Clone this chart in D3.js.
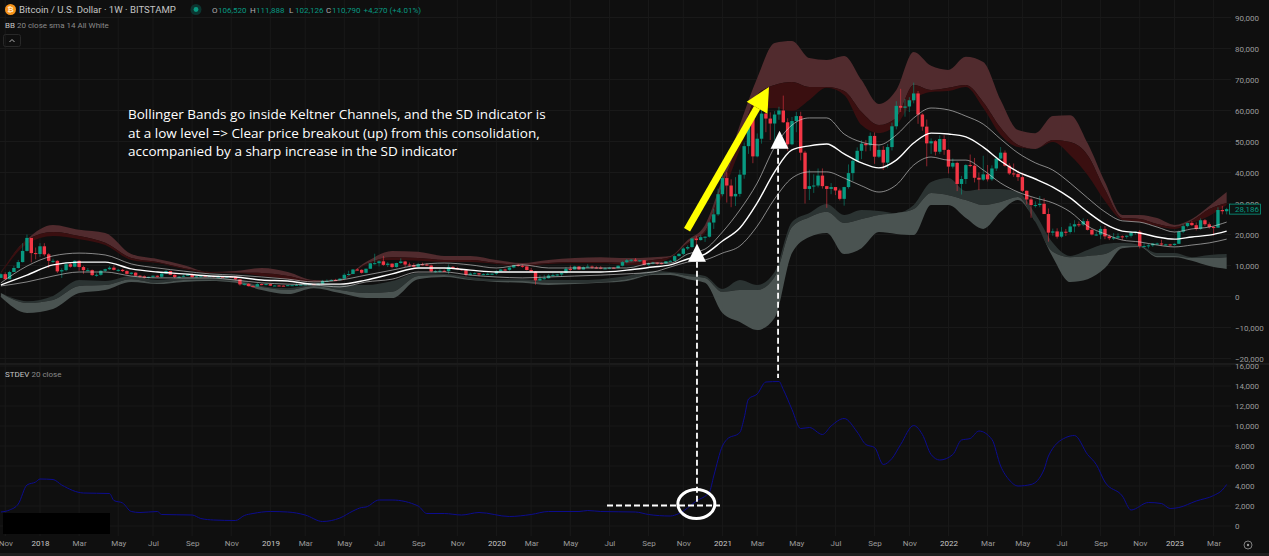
<!DOCTYPE html>
<html><head><meta charset="utf-8">
<script src="https://cdn.jsdelivr.net/npm/d3@7"></script>
<style>html,body{margin:0;padding:0;background:#0f0f0f;overflow:hidden}svg{display:block}text{font-family:Roboto,sans-serif}</style>
</head><body><svg id="c" width="1269" height="556"></svg>
<script>
// ---------- weekly candles (Monday weeks from 30 Oct 2017) ----------
const firstWeek = "2017-10-30";
const firstOpen = 6000;
const closes = [7200,5600,7900,9200,11100,14700,18900,14000,13700,
16200,13600,11500,11500,8100,8500,10400,9600,11500,9500,8500,8500,6900,7000,8300,8800,9300,8600,8600,8200,7300,7700,6700,6500,6100,6350,6700,6350,7400,8200,7000,6300,6400,6700,7200,6250,6500,6700,6600,6600,6300,6400,6350,6400,6350,5550,3900,4100,3350,3200,4000,3800,4000,
3500,3550,3500,3450,3650,3650,3750,3800,3900,4000,3990,4100,5050,5070,5300,5250,5760,7000,7260,8700,8600,7650,8950,10700,10750,11350,10200,10600,9500,10800,11300,10300,10150,9600,10400,10300,10000,8100,8150,8300,8200,9550,9200,8800,8500,7000,7400,7500,7100,7200,7300,7350,
8150,8700,8600,9350,10150,9900,9700,8550,8050,5200,5800,5900,6780,6900,7100,7550,8900,8700,9680,8700,9450,9660,9350,9300,9000,9070,9300,9170,9930,11100,11680,11850,11650,11700,10250,10680,10930,10770,10680,11370,11500,13030,13750,15480,15950,18700,18200,19150,19280,23860,26500,33000,
38200,35800,32300,33100,39300,48500,57400,45200,50900,59000,57400,55800,58700,60000,56200,49100,56600,58200,46400,34700,35600,35800,39000,35600,34700,35300,34200,31500,35300,39800,43800,47000,49300,48800,51800,45100,47300,43200,48200,54900,61500,60900,61300,63300,65500,58700,54800,49400,50100,46700,50800,47300,
41900,43100,36300,37900,42400,42200,38300,37700,39400,37800,41300,44500,46400,42200,39700,39500,38500,34100,31300,29500,29500,29900,26600,20600,21000,19300,20900,20800,22600,23300,23200,24300,21500,20000,20000,21800,19400,18800,19000,19400,19300,19600,20600,20900,16300,16300,16500,17100,17100,16800,16800,16600,
17000,20900,22700,23700,23000,21800,24600,23300,22400,22200,27900,27500,28186];
const highs = [7500,7800,8300,9900,11800,17200,20000,18800,15800,
17200,17200,14000,12200,11700,9100,10900,11000,11700,11700,9900,9200,8700,7500,8500,9000,9800,10000,8900,8900,8500,7800,7800,6900,6800,6400,6800,6800,7500,8500,8300,7200,6600,7100,7300,7400,6600,6800,6800,6800,6700,6800,6500,6500,6500,6400,5600,4400,4300,3500,4300,4200,4100,
4100,3700,3700,3600,3700,3750,4200,3900,3950,4050,4100,4200,5350,5500,5600,5700,5900,7500,8300,8900,9100,8800,9000,10900,13800,11700,13100,11100,10700,10900,12300,11500,10950,10800,10800,10900,10700,10300,8500,8800,8700,10350,9800,9500,8800,8700,7800,7800,7500,7500,7700,7500,
8450,8900,8990,9600,10200,10500,10300,9800,9200,8200,6900,7000,7200,7500,7300,7750,9500,10000,9900,9800,9700,10400,10000,9800,9800,9400,9400,9400,10000,11400,12100,12100,12400,11800,11800,11000,11200,11000,11000,11400,11700,13300,14000,15900,16500,18900,19500,19900,19400,24200,28300,34800,
41900,40100,37800,38500,40900,49700,58300,58100,52600,61700,61000,59400,59800,61200,64800,57500,57900,59500,59600,47000,40900,39400,41300,41300,35700,36600,35000,34800,35400,42600,44700,48100,50400,50500,52900,52900,48800,48500,49200,56100,63000,67000,63700,64300,69000,66300,59100,57100,51000,50500,52000,52000,
47500,44500,43500,38900,42700,45800,44700,40000,45400,42400,42300,45100,48200,47100,43000,42900,40700,40000,34200,32000,30700,32400,31700,28400,21900,22000,22400,21800,23700,24600,24200,25200,25000,21800,21000,22700,22700,20000,20500,20400,19700,19700,21100,21000,21400,17200,17000,17200,17400,18300,17000,17000,
17100,21300,23300,23800,24300,23900,25200,25000,23900,22700,28800,29200,28600];
const lows = [6000,5500,5600,7900,9000,11000,14500,11000,12000,
12800,13000,9200,10800,7600,6000,8100,9300,9400,8300,7300,8300,6600,6400,6700,7800,8600,8400,8000,7900,7100,7000,6700,6100,5800,5800,6100,6100,6100,7300,6900,5900,5900,6200,6600,6100,6200,6100,6400,6400,6100,6200,6300,6200,6300,5200,3500,3500,3200,3100,3200,3600,3600,
3400,3450,3400,3400,3400,3600,3650,3700,3700,3850,3900,3950,4050,4900,5000,5100,5200,5700,6800,7200,8300,7400,7500,8900,10300,9700,9900,9500,9100,9300,10500,9500,9700,9400,9500,10000,9800,7800,7700,7800,8000,7300,8900,8700,8300,6500,6800,7200,6500,6900,7100,6900,
7000,8100,8300,8300,9100,9600,9300,8400,8000,3800,5000,5400,5800,6500,6500,6500,7500,8100,8700,8600,8700,9350,8900,9000,8800,8900,9000,9050,9100,9700,10700,11100,11300,11100,10000,9900,10400,10300,10350,10600,11200,11400,12900,13300,15000,15700,16200,18000,17600,19000,21800,26000,
32300,30300,28800,29200,32200,38000,46000,43000,44900,49300,53000,50500,50400,57000,56000,47000,48800,53000,43900,30000,31100,33400,35200,34800,28600,33000,32700,31000,29300,34800,37300,43300,44300,46800,47000,42800,44700,40800,41400,47100,53900,59500,58000,59500,62300,55700,53500,42000,46000,45500,46000,45700,
39700,41300,34000,32900,36300,41700,36800,34300,37300,37100,37300,40500,44200,41900,39200,38600,37300,33700,29700,25400,28700,28800,26600,17700,19600,18700,18900,19500,20300,20700,22400,22700,21300,19700,19600,18500,18500,18200,18200,18700,18200,18700,19000,20000,15500,15800,15500,16000,16700,16300,16400,16300,
16400,17000,20400,22300,22700,21300,21500,22700,21900,19600,22300,26500,26500];

// ---------- band readings, at these week numbers ----------
const bandWeeks = [0,6,12,18,24,30,36,42,48,54,60,66,72,78,84,90,96,102,108,114,120,126,132,138,144,150,
154,158,162,166,170,174,178,182,186,190,194,198,202,206,210,214,218,222,226,230,234,238,242,246,250,254,258,262,266,270,274,278,282];
const redTop = [7900,18500,23100,21500,20500,13700,12100,10200,7900,8200,9200,7900,5300,5600,11100,14700,14400,13100,13100,11800,10800,11800,12400,12700,12400,12700,
13100,18200,23100,38200,55300,70500,81800,82400,76900,76300,77600,69800,62100,66600,78900,74400,73100,77300,75650,63400,53700,52700,58200,58500,49500,36900,26300,26300,25300,23100,25000,29200,33700];
const redMid = [7600,18200,20800,19500,17300,12400,11100,9200,7900,7700,7600,6600,5000,5300,10500,12700,12400,11800,11800,10800,10200,10800,11100,11100,10800,11800,
12700,17300,21100,36000,50500,65000,68200,69200,67600,67600,66300,59500,55300,57600,68200,66600,67300,68200,62700,54400,48900,47600,50500,49800,45600,34400,25300,25000,23400,22400,24400,28200,30200];
const redLow = [7300,16900,19500,18500,16600,11800,10800,8900,7600,7600,6600,5600,4700,5000,10200,11800,11500,11100,11100,10500,9800,10500,10800,10800,10200,10500,
12400,16900,20500,32700,47300,60200,60800,59800,63400,67300,65000,55300,52700,55300,63400,66000,66300,67600,60800,52100,48200,47600,49800,45600,39200,30800,24700,24000,22700,21800,23700,26000,29500];
const bbUpper = [4400,9800,13100,14000,13400,10500,9200,8200,7300,6900,6300,5600,4700,5300,6900,8500,10200,10800,10200,9200,10200,9200,9200,9200,9200,10800,
10800,13700,15300,20800,27900,36600,48200,55300,57600,57600,52400,49800,48900,52100,57600,60800,60200,58200,55600,50800,46300,43100,40800,36600,31800,27300,24400,24000,22400,20800,21800,22400,24000];
const bbBasis = [3700,6900,10200,11100,11100,8900,7900,7300,6600,6300,5300,5000,4000,4000,5300,7300,9200,9200,8500,7900,7900,7900,7900,7900,8500,9500,
10200,12100,13700,17900,22100,30200,40200,47300,48600,49200,46000,43100,41500,44000,49500,52700,52400,51500,48200,43700,40200,37900,35300,31800,27300,23400,21100,20500,19200,18500,19200,19800,21100];
const bbLower = [3400,4700,6600,7900,7900,6600,6000,6000,6000,5300,4400,4000,3700,3100,4700,5600,7900,7900,6900,6300,6000,6300,6600,6900,7300,7900,
9500,11100,11800,14000,16300,22700,31500,38200,40200,40200,38200,35700,33700,36000,42400,45000,44000,44000,40800,36600,33700,31800,30200,27300,22700,20200,18200,17600,16600,16000,16600,17300,18500];
const greyTop = [1100,-1500,200,5300,5000,6600,5300,6000,6000,5600,3400,2700,3700,3700,3700,5000,7600,7300,6300,5600,5600,5300,5300,5600,6600,8200,
7900,7300,6600,2400,5300,3700,7900,24000,26900,29800,26300,27900,27600,26900,29500,36900,38200,34000,34700,34700,33700,26600,17300,13100,15000,16900,17300,16600,14000,14000,12700,13400,13700];
const greyMid = [1100,-2100,-1100,3400,3700,5600,4400,5300,5300,5000,3100,2100,3400,2100,1100,1500,6600,6900,5600,5000,5000,4400,4400,4700,5600,7300,
7600,6600,6000,1500,2100,2100,6300,22400,25600,27300,23700,25000,26300,26900,28200,33400,32700,31100,29500,30500,32100,24000,14400,12700,13100,13700,16300,16300,13100,13100,12400,12400,12700];
const greyLow = [-200,-5300,-4000,1100,2100,4700,4000,4700,5000,4400,2100,800,2700,1100,-500,-500,5600,6300,5300,4700,4400,3700,4000,4400,5000,6900,
6900,5600,4400,-5300,-8200,-10800,-6900,14000,19200,20500,13700,15600,20800,20200,19800,29500,29500,25300,21800,27300,31100,24000,12700,4700,5600,9200,15600,16000,12700,12700,11500,9800,8900];

// ---------- standard deviation panel ----------
const stdevWeeks = [0,2,4,6,8,9,12,14,19,25,26,28,30,32,36,37,44,46,49,54,56,58,62,66,70,74,78,81,83,84,87,90,96,98,102,106,110,117,122,126,133,135,
138,146,149,154,156,160,163,164,166,167,170,171,172,174,176,179,180,182,184,186,189,191,194,197,199,201,203,205,207,210,212,214,216,219,221,223,225,228,230,232,234,237,240,241,245,247,250,252,254,258,260,264,267,269,271,275,279,281,282];
const stdevValues = [1400,1600,2200,4100,4400,4700,4650,4100,3300,3250,2550,2300,1450,1350,1450,1150,1100,750,600,550,1050,1250,1450,1400,1100,450,800,1500,1850,1900,2600,2600,2000,1250,1250,1100,1350,950,1150,1450,1450,1550,
1450,1400,1150,1000,1250,2500,3400,5000,8000,8650,9350,10800,12700,13200,14400,14450,13650,11650,9750,9850,9150,10000,10750,9400,8150,7850,6150,6750,8150,10050,9150,7150,6600,7150,8600,8750,9500,8650,6000,4600,4000,4150,5650,7000,8850,9050,7150,6150,4400,3000,1600,2350,2250,1750,1850,2500,3050,3600,4150];

// ---------- axis ticks ----------
const priceTicks = [90000,80000,70000,60000,50000,40000,30000,20000,10000,0,-10000,-20000];
const stdevTicks = [16000,14000,12000,10000,8000,6000,4000,2000,0];
const timeTicks = ["2017-11-06","2018-01-01","2018-03-05","2018-05-07","2018-07-02","2018-09-03","2018-11-05","2019-01-07","2019-03-04","2019-05-06","2019-07-01","2019-09-02","2019-11-04","2020-01-06","2020-03-02","2020-05-04","2020-07-06","2020-09-07","2020-11-02","2021-01-04","2021-03-01","2021-05-03","2021-07-05","2021-09-06","2021-11-01","2022-01-03","2022-03-07","2022-05-02","2022-07-04","2022-09-05","2022-11-07","2023-01-02","2023-03-06"];
const timeLabels = ["Nov","2018","Mar","May","Jul","Sep","Nov","2019","Mar","May","Jul","Sep","Nov","2020","Mar","May","Jul","Sep","Nov","2021","Mar","May","Jul","Sep","Nov","2022","Mar","May","Jul","Sep","Nov","2023","Mar"];

// ---------- texts and annotation anchors (week number, value) ----------
const noteLines = ["Bollinger Bands go inside Keltner Channels, and the SD indicator is","at a low level => Clear price breakout (up) from this consolidation,","accompanied by a sharp increase in the SD indicator"];
const arrowFrom = [157.8, 21500], arrowTo = [176.7, 67600];
const markers = [{week:160.1, price:17000, stdevTo:2400},{week:179.2, price:53500, stdevTo:14800}];
const ohlc = [["O","106,520"],["H","111,888"],["L","102,126"],["C","110,790"]];

const BG="#0f0f0f", GRID="#191919", UP="#089981", DOWN="#f23645", AXIS="#9b9b9b";
const W=1231, svg=d3.select("#c");
const parse=d3.utcParse("%Y-%m-%d");
const start=parse(firstWeek);
const weekDate=i=>d3.utcDay.offset(start,Math.round(i*7));
const x=d3.scaleUtc().domain([parse("2018-01-01"),parse("2023-01-02")]).range([40,1174.5]);
const y=d3.scaleLinear().domain([-20000,90000]).range([358.5,17.5]);
const ys=d3.scaleLinear().domain([0,16000]).range([526,366]);
const xw=i=>x(weekDate(i));

svg.append("rect").attr("width",1269).attr("height",556).attr("fill",BG);
svg.append("defs").append("clipPath").attr("id","plot").append("rect").attr("x",0).attr("y",0).attr("width",W).attr("height",364);

// gridlines
const g=svg.append("g").attr("stroke",GRID).attr("stroke-width",1);
g.selectAll("line.v").data(timeTicks).join("line").attr("x1",d=>x(parse(d))).attr("x2",d=>x(parse(d))).attr("y1",0).attr("y2",536);
g.selectAll("line.p").data(priceTicks).join("line").attr("x1",0).attr("x2",W).attr("y1",d=>y(d)).attr("y2",d=>y(d));
g.selectAll("line.s").data(stdevTicks).join("line").attr("x1",0).attr("x2",W).attr("y1",d=>ys(d)).attr("y2",d=>ys(d));

// bands
const plot=svg.append("g").attr("clip-path","url(#plot)");
const bandArea=(a,b)=>d3.area().x((d,i)=>xw(bandWeeks[i])).y0((d,i)=>y(b[i])).y1((d,i)=>y(a[i])).curve(d3.curveMonotoneX)(bandWeeks);
plot.append("path").attr("d",bandArea(redTop,redMid)).attr("fill","#512b2e");
plot.append("path").attr("d",bandArea(redMid,redLow)).attr("fill","#3a0f10");
plot.append("path").attr("d",bandArea(greyTop,greyMid)).attr("fill","#2b3332");
plot.append("path").attr("d",bandArea(greyMid,greyLow)).attr("fill","#4a5351");

// candles
const opens=closes.map((c,i)=>i?closes[i-1]:firstOpen);
const cg=plot.append("g");
closes.forEach((c,i)=>{
  const col=c>=opens[i]?UP:DOWN, cx=xw(i);
  cg.append("line").attr("x1",cx).attr("x2",cx).attr("y1",y(highs[i])).attr("y2",y(lows[i])).attr("stroke",col).attr("stroke-opacity",.55).attr("stroke-width",1);
  const t=y(Math.max(c,opens[i])), b=y(Math.min(c,opens[i]));
  cg.append("rect").attr("x",cx-1.7).attr("width",3.4).attr("y",t).attr("height",Math.max(1,b-t)).attr("fill",col);
});

// Bollinger lines
const bLine=a=>d3.line().x((d,i)=>xw(bandWeeks[i])).y((d,i)=>y(a[i])).curve(d3.curveMonotoneX)(bandWeeks);
plot.append("path").attr("d",bLine(bbUpper)).attr("fill","none").attr("stroke","#d8d8d8").attr("stroke-opacity",.75).attr("stroke-width",.8);
plot.append("path").attr("d",bLine(bbLower)).attr("fill","none").attr("stroke","#d8d8d8").attr("stroke-opacity",.75).attr("stroke-width",.8);
plot.append("path").attr("d",bLine(bbBasis)).attr("fill","none").attr("stroke","#fff").attr("stroke-width",1.4);

// separators
svg.append("rect").attr("x",0).attr("y",363).attr("width",1269).attr("height",2).attr("fill","#1b1b1b");
svg.append("rect").attr("x",0).attr("y",553).attr("width",1269).attr("height",3).attr("fill","#1e1e1e");

// STDEV
svg.append("path").attr("d",d3.line().x(d=>xw(d)).y((d,i)=>ys(stdevValues[i])).curve(d3.curveMonotoneX)(stdevWeeks)).attr("fill","none").attr("stroke","#0c0c8e").attr("stroke-width",1);

// axes
const axR=svg.append("g").attr("transform","translate(1235,0)").call(d3.axisRight(y).tickValues(priceTicks).tickFormat(d3.format(",")).tickSize(0).tickPadding(0));
const axS=svg.append("g").attr("transform","translate(1235,0)").call(d3.axisRight(ys).tickValues(stdevTicks).tickFormat(d3.format(",")).tickSize(0).tickPadding(0));
const axB=svg.append("g").attr("transform","translate(0,536)").call(d3.axisBottom(x).tickValues(timeTicks.map(parse)).tickFormat((d,i)=>timeLabels[i]).tickSize(0).tickPadding(4));
[axR,axS,axB].forEach(a=>{a.select(".domain").remove();a.selectAll("text").attr("fill",AXIS).attr("font-size",8).style("font-family","Roboto");});
axB.selectAll("text").attr("fill",(d,i)=>/^\d/.test(timeLabels[i])?"#c8c8c8":AXIS);

// last price tag
const lastClose=closes[closes.length-1];
svg.append("rect").attr("x",1229.5).attr("y",y(lastClose)-5).attr("width",31).attr("height",10).attr("fill","#0c1412").attr("stroke",UP).attr("stroke-width",.8);
svg.append("text").attr("x",1235).attr("y",y(lastClose)+3).attr("fill",UP).attr("font-size",8).text(d3.format(",")(lastClose));

// legend
svg.append("circle").attr("cx",10.5).attr("cy",9.5).attr("r",5.5).attr("fill","#f7931a");
svg.append("text").attr("x",10.5).attr("y",12.3).attr("text-anchor","middle").attr("font-size",8).attr("fill","#ffe7c4").attr("font-weight",700).text("₿");
svg.append("text").attr("x",19).attr("y",13).attr("fill","#c4c4c4").attr("font-size",9.6).text("Bitcoin / U.S. Dollar · 1W · BITSTAMP");
svg.append("circle").attr("cx",196).attr("cy",9.5).attr("r",5.5).attr("fill","#0c3530");
svg.append("circle").attr("cx",196).attr("cy",9.5).attr("r",2.4).attr("fill",UP);
const legendX=[212,250,289,326];
ohlc.forEach((d,i)=>{
  svg.append("text").attr("x",legendX[i]).attr("y",12.6).attr("fill","#b0b0b0").attr("font-size",8).text(d[0]);
  svg.append("text").attr("x",legendX[i]+6).attr("y",12.6).attr("fill",UP).attr("font-size",8).text(d[1]);
});
svg.append("text").attr("x",363.5).attr("y",12.6).attr("fill",UP).attr("font-size",8).text("+4,270 (+4.01%)");
const bb=svg.append("text").attr("x",5).attr("y",28).attr("font-size",8);
bb.append("tspan").attr("fill","#c4c4c4").text("BB ");
bb.append("tspan").attr("fill","#8a8a8a").text("20 close sma 14 All White");
svg.append("rect").attr("x",3.5).attr("y",34.5).attr("width",17).attr("height",12).attr("rx",2).attr("fill","none").attr("stroke","#282828");
svg.append("path").attr("d","M9.5 42 L12 39.5 L14.5 42").attr("fill","none").attr("stroke","#b0b0b0").attr("stroke-width",1);
const sd=svg.append("text").attr("x",5).attr("y",377).attr("font-size",8);
sd.append("tspan").attr("fill","#c4c4c4").text("STDEV ");
sd.append("tspan").attr("fill","#8a8a8a").text("20 close");
svg.append("circle").attr("cx",1248).attr("cy",545).attr("r",4).attr("fill","none").attr("stroke","#9b9b9b").attr("stroke-width",.8);
svg.append("circle").attr("cx",1248).attr("cy",545).attr("r",1.2).attr("fill","#9b9b9b");

// hiding patch
svg.append("rect").attr("x",3).attr("y",513).attr("width",107).attr("height",21).attr("fill","#000");

// note
const note=svg.append("text").attr("x",128).attr("font-size",13.5).attr("fill","#fff").style("font-family","'Open Sans'");
noteLines.forEach((t,i)=>note.append("tspan").attr("x",128).attr("y",119+i*18.5).text(t));

// yellow arrow
const ax0=xw(arrowFrom[0]), ay0=y(arrowFrom[1]), ax1=xw(arrowTo[0]), ay1=y(arrowTo[1]);
const ang=Math.atan2(ay1-ay0,ax1-ax0), hl=24, hw=12, neck=[ax1-hl*Math.cos(ang),ay1-hl*Math.sin(ang)];
svg.append("line").attr("x1",ax0).attr("y1",ay0).attr("x2",neck[0]).attr("y2",neck[1]).attr("stroke","#ffff00").attr("stroke-width",7);
svg.append("polygon").attr("fill","#ffff00").attr("points",[[ax1,ay1],[neck[0]+hw*Math.sin(ang),neck[1]-hw*Math.cos(ang)],[neck[0]-hw*Math.sin(ang),neck[1]+hw*Math.cos(ang)]].map(p=>p.join(",")).join(" "));

// markers
markers.forEach(m=>{
  const mx=xw(m.week), apex=y(m.price);
  svg.append("polygon").attr("fill","#fff").attr("points",[[mx,apex],[mx-9,apex+18],[mx+9,apex+18]].map(p=>p.join(",")).join(" "));
  svg.append("line").attr("x1",mx-(m.week>170?1.5:0)).attr("x2",mx-(m.week>170?1.5:0)).attr("y1",apex+18).attr("y2",ys(m.stdevTo)).attr("stroke","#fff").attr("stroke-width",1.8).attr("stroke-dasharray","6 3");
});
svg.append("line").attr("x1",607).attr("x2",720).attr("y1",ys(2050)).attr("y2",ys(2050)).attr("stroke","#fff").attr("stroke-width",1.8).attr("stroke-dasharray","6 3");
svg.append("ellipse").attr("cx",xw(160)).attr("cy",ys(2200)).attr("rx",18.5).attr("ry",14.5).attr("fill","none").attr("stroke","#fff").attr("stroke-width",3);
</script></body></html>
